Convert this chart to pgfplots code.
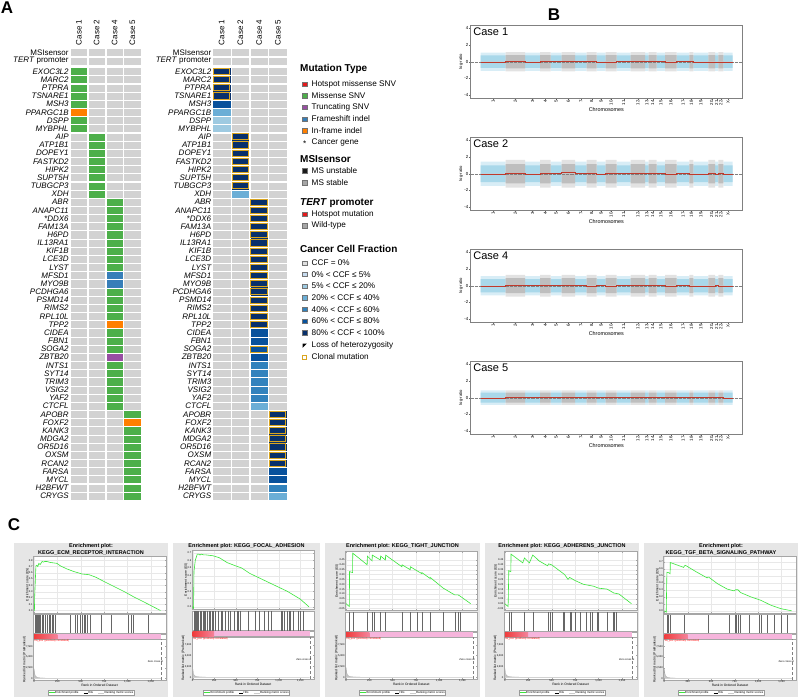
\documentclass[border=0pt]{standalone}
\usepackage{fontspec}
\setmainfont{Liberation Sans}
\usepackage{pgfplots}
\usepackage{pgfplotstable}
\pgfplotsset{compat=1.18}

\definecolor{cg}{HTML}{D2D2D2}
\definecolor{mgreen}{HTML}{4DAF4A}
\definecolor{morange}{HTML}{FF7F00}
\definecolor{mblue}{HTML}{377EB8}
\definecolor{mpurple}{HTML}{984EA3}
\definecolor{mred}{HTML}{E41A1C}
\definecolor{ccfa}{HTML}{C6DBEF}
\definecolor{ccfb}{HTML}{9ECAE1}
\definecolor{ccfc}{HTML}{6BAED6}
\definecolor{ccfd}{HTML}{3182BD}
\definecolor{ccfe}{HTML}{08519C}
\definecolor{ccff}{HTML}{08306B}
\definecolor{clonal}{HTML}{D9A520}
\definecolor{bandblue}{HTML}{A9D8EA}
\definecolor{bandgray}{HTML}{BEBEBE}
\definecolor{segred}{HTML}{C0392B}
\definecolor{esgreen}{HTML}{3CE63C}
\definecolor{gseabg}{HTML}{E6E6E6}
\definecolor{gpink}{HTML}{F6B5DC}
\definecolor{gred}{HTML}{F03C3C}

\newcommand{\genef}{\fontsize{8}{8}\selectfont\itshape}
\newcommand{\genefup}{\fontsize{8}{8}\selectfont\upshape}
\newcommand{\legf}{\fontsize{8.2}{9}\selectfont}
\newcommand{\headf}{\fontsize{10}{11}\selectfont\bfseries}
\newcommand{\cnvtick}{\fontsize{4.4}{5}\selectfont}
\newcommand{\gtiny}{\fontsize{2.6}{3}\selectfont}
\newcommand{\glab}{\fontsize{3.3}{4}\selectfont}
\newcommand{\gtitle}{\fontsize{5.5}{6}\selectfont\bfseries}

\tikzset{casel/.style={rotate=90, anchor=west, inner sep=0pt, font=\fontsize{8}{8}\selectfont}}

% mutation type per gene (g grey, m missense, i in-frame, f frameshift, t truncating)
\pgfplotstableread{
r c1 c2 c4 c5
-2.35 g g g g
-1.29 g g g g
0 m g g g
1 m g g g
2 m g g g
3 m g g g
4 m g g g
5 i g g g
6 m g g g
7 m g g g
8 g m g g
9 g m g g
10 g m g g
11 g m g g
12 g m g g
13 g m g g
14 g m g g
15 g m g g
16 g g m g
17 g g m g
18 g g m g
19 g g m g
20 g g m g
21 g g m g
22 g g m g
23 g g m g
24 g g m g
25 g g f g
26 g g f g
27 g g m g
28 g g m g
29 g g m g
30 g g m g
31 g g i g
32 g g m g
33 g g m g
34 g g m g
35 g g t g
36 g g m g
37 g g m g
38 g g m g
39 g g m g
40 g g m g
41 g g m g
42 g g g m
43 g g g i
44 g g g m
45 g g g m
46 g g g m
47 g g g m
48 g g g m
49 g g g m
50 g g g m
51 g g g m
52 g g g m
}\mutA

% cancer cell fraction class (g 0, a..f increasing)
\pgfplotstableread{
r c1 c2 c4 c5
-2.35 g g g g
-1.29 g g g g
0 f g g g
1 f g g g
2 f g g g
3 f g g g
4 e g g g
5 c g g g
6 b g g g
7 b g g g
8 g f g g
9 g f g g
10 g f g g
11 g f g g
12 g f g g
13 g f g g
14 g f g g
15 g c g g
16 g g f g
17 g g f g
18 g g f g
19 g g f g
20 g g f g
21 g g f g
22 g g f g
23 g g f g
24 g g f g
25 g g f g
26 g g f g
27 g g f g
28 g g f g
29 g g f g
30 g g f g
31 g g f g
32 g g e g
33 g g e g
34 g g e g
35 g g e g
36 g g d g
37 g g d g
38 g g d g
39 g g d g
40 g g d g
41 g g c g
42 g g g f
43 g g g f
44 g g g f
45 g g g f
46 g g g f
47 g g g f
48 g g g f
49 g g g e
50 g g g e
51 g g g d
52 g g g c
}\ccfA

\pgfplotstableread{
x r
0 0
0 1
0 2
0 3
1 8
1 9
1 10
1 11
1 12
1 13
1 14
2 16
2 17
2 18
2 19
2 20
2 21
2 22
2 23
2 24
2 25
2 26
2 27
2 28
2 29
2 30
2 31
2 34
3 42
3 43
3 44
3 45
3 46
3 47
3 48
}\clonA

% chromosome starts (genome index), band half-widths and segment means
\pgfplotstableread{
x   isb w1   s1    w2   s2    w4   s4    w5   s5
62  1  0.75 -0.06 1.00 -0.05 0.80 -0.04 0.60 -0.02
137 0  0.80  0.01 1.15  0.00 0.90  0.02 0.60  0.00
195 1  0.75 -0.03 1.00 -0.03 0.80  0.00 0.60  0.01
240 0  0.80  0.03 1.15  0.02 0.90  0.03 0.60  0.00
272 1  0.75  0.00 1.00  0.10 0.80  0.05 0.60  0.00
305 0  0.80  0.08 1.15  0.12 0.90  0.04 0.60  0.02
345 1  0.75  0.02 1.00  0.02 0.80  0.00 0.60  0.00
380 0  0.80  0.00 1.15  0.05 0.90 -0.02 0.60  0.00
410 1  0.75 -0.05 1.00 -0.06 0.80  0.00 0.60  0.00
437 0  0.80 -0.02 1.15  0.00 0.90 -0.05 0.60  0.01
470 1  0.75  0.03 1.00  0.02 0.80  0.02 0.60  0.00
512 0  0.80  0.05 1.15  0.04 0.90  0.03 0.60  0.00
555 1  0.75  0.00 1.00  0.02 0.80  0.00 0.60  0.00
566 0  0.80  0.05 1.15  0.05 0.90  0.02 0.60  0.00
590 1  0.75  0.00 1.00  0.00 0.80  0.00 0.60  0.00
615 0  0.80 -0.05 1.15 -0.06 0.90 -0.04 0.60  0.00
650 1  0.75  0.00 1.00  0.00 0.80  0.02 0.60  0.01
688 0  0.80  0.02 1.15 -0.12 0.90 -0.02 0.60  0.00
700 1  0.75 -0.10 1.00 -0.10 0.80 -0.08 0.60  0.00
745 0  0.80 -0.08 1.15  0.03 0.90 -0.03 0.60  0.00
765 1  0.75 -0.06 1.00 -0.10 0.80  0.00 0.60  0.00
775 0  0.80 -0.08 1.15  0.00 0.90 -0.08 0.60  0.00
790 1  0.75 -0.08 1.00 -0.05 0.80 -0.06 0.60 -0.02
818 0  0.00 -0.08 0.00 -0.05 0.00 -0.06 0.00 -0.02
}\chrtab

\pgfplotsset{
  heat/.style={anchor=north west, y dir=reverse, y=8.163pt,
    xmin=-0.5, xmax=3.5, ymin=-2.95, ymax=52.6,
    axis line style={draw=none}, major tick length=0pt, xtick=\empty,
    ytick={0,...,52},
    yticklabels={EXOC3L2,MARC2,PTPRA,TSNARE1,MSH3,PPARGC1B,DSPP,MYBPHL,
      AIP,ATP1B1,DOPEY1,FASTKD2,HIPK2,SUPT5H,TUBGCP3,XDH,
      ABR,ANAPC11,*DDX6,FAM13A,H6PD,IL13RA1,KIF1B,LCE3D,LYST,MFSD1,MYO9B,
      PCDHGA6,PSMD14,RIMS2,RPL10L,TPP2,CIDEA,FBN1,SOGA2,ZBTB20,INTS1,SYT14,
      TRIM3,VSIG2,YAF2,CTCFL,APOBR,FOXF2,KANK3,MDGA2,OR5D16,OXSM,RCAN2,
      FARSA,MYCL,H2BFWT,CRYGS},
    yticklabel style={font=\genef, inner sep=1pt},
    extra y ticks={-2.35,-1.29},
    extra y tick labels={MSIsensor,\textit{TERT} promoter},
    extra y tick style={yticklabel style={font=\genefup}},
    clip=false},
  cell/.style={scatter, only marks, mark=square*, mark size=3.05pt,
    point meta=explicit symbolic},
  cnv/.style={anchor=north west, scale only axis, width=271.3pt, height=73pt,
    xmin=32, xmax=846, ymin=-4.35, ymax=4.4,
    axis line style={black!50, line width=0.5pt},
    tick pos=left, tick align=outside, major tick length=1.5pt,
    tick style={black!60, line width=0.3pt},
    xtick={99.5,166,217.5,256,288.5,325,362.5,395,423.5,453.5,491,533.5,560.5,578,602.5,632.5,669,694,722.5,755,770,782.5,804},
    xticklabels={1,2,3,4,5,6,7,8,9,10,11,12,13,14,15,16,17,18,19,20,21,22,X},
    xticklabel style={rotate=90, anchor=east, font=\cnvtick, inner sep=0.8pt},
    ytick={-4,-2,0,2,4},
    yticklabel style={font=\cnvtick, inner sep=0.8pt},
    /pgf/number format/assume math mode=true,
    xlabel={Chromosomes}, ylabel={log-ratio},
    xlabel style={font=\fontsize{5.4}{6}\selectfont, yshift=2pt},
    ylabel style={font=\fontsize{4.2}{5}\selectfont, yshift=-3pt}},
  gbase/.style={anchor=north west, scale only axis, xmin=-8, xmax=1410,
    axis line style={gray!70, line width=0.3pt},
    tick style={gray!70, line width=0.2pt}, major tick length=1pt,
    tick label style={font=\gtiny, inner sep=0.5pt},
    label style={font=\glab},
    /pgf/number format/assume math mode=true,
    xtick={0,250,500,750,1000,1250}},
  esax/.style={gbase, axis background/.style={fill=white},
    grid=major, grid style={gray!18, line width=0.2pt},
    xticklabels={}, ylabel={Enrichment score (ES)}, ylabel style={yshift=-4pt}},
  hitax/.style={gbase, axis background/.style={fill=white},
    ymin=0, ymax=1, xtick=\empty, ytick=\empty},
  pinkax/.style={gbase, axis background/.style={fill=white},
    ymin=0, ymax=1, xtick=\empty, ytick=\empty},
  rankax/.style={gbase, axis background/.style={fill=white},
    ymin=-400, ymax=9250, ytick={0,2500,5000,7500},
    yticklabels={0,{2,500},{5,000},{7,500}},
    xticklabels={0,250,500,750,{1,000},{1,250}},
    xlabel={Rank in Ordered Dataset}, ylabel={Ranked list metric (PreRanked)},
    xlabel style={yshift=3pt}, ylabel style={yshift=-4pt}},
}

\newcommand{\sw}[3]{%
  \filldraw[fill=#2, draw=black!55, line width=0.3pt] (302.6pt,-#1pt) ++(0pt,-2.1pt) rectangle ++(4.2pt,4.2pt);
  \node[anchor=west, inner sep=0pt, font=\legf] at (311.5pt,-#1pt) {#3};}

\newcommand{\cnv}[4]{%
\begin{axis}[cnv, at={(470.7pt,-#1pt)}]
\addplot[ybar interval, fill=bandblue!45, draw=none] table[x=x, y expr={1.45*\thisrow{isb}*\thisrow{#2}}] {\chrtab};
\addplot[ybar interval, fill=bandblue!45, draw=none] table[x=x, y expr={-1.45*\thisrow{isb}*\thisrow{#2}}] {\chrtab};
\addplot[ybar interval, fill=bandgray!45, draw=none] table[x=x, y expr={1.45*(1-\thisrow{isb})*\thisrow{#2}}] {\chrtab};
\addplot[ybar interval, fill=bandgray!45, draw=none] table[x=x, y expr={-1.45*(1-\thisrow{isb})*\thisrow{#2}}] {\chrtab};
\addplot[ybar interval, fill=bandblue, draw=none] table[x=x, y expr={\thisrow{isb}*\thisrow{#2}}] {\chrtab};
\addplot[ybar interval, fill=bandblue, draw=none] table[x=x, y expr={-\thisrow{isb}*\thisrow{#2}}] {\chrtab};
\addplot[ybar interval, fill=bandgray, draw=none] table[x=x, y expr={(1-\thisrow{isb})*\thisrow{#2}}] {\chrtab};
\addplot[ybar interval, fill=bandgray, draw=none] table[x=x, y expr={-(1-\thisrow{isb})*\thisrow{#2}}] {\chrtab};
\addplot[densely dotted, black!50, line width=0.3pt] coordinates {(32,0) (846,0)};
\addplot[const plot, segred, line width=0.6pt] table[x=x, y=#3] {\chrtab};
\node[anchor=north west, font=\fontsize{11}{12}\selectfont, inner sep=2.5pt] at (rel axis cs:0,1) {#4};
\end{axis}}

\newcommand{\ghits}[5]{%
\begin{axis}[hitax, at={(#1pt,-#3pt)}, width=#2pt, height=#4pt]
\addplot[ycomb, black!60, line width=0.3pt] coordinates {#5};
\end{axis}}

\newcommand{\glegend}[1]{%
\node[draw=gray!80, fill=white, inner sep=0.8pt, font=\fontsize{2.9}{3.5}\selectfont] at (#1pt,-692.6pt)
 {\textcolor{esgreen}{\rule[0.3ex]{6pt}{0.8pt}}\,Enrichment profile\hspace{5pt}\rule[0.3ex]{4pt}{0.3pt}\,Hits\hspace{5pt}\textcolor{gray!40}{\rule[0.3ex]{6pt}{0.3pt}}\,Ranking metric scores};}

\newcommand{\gbottom}[6]{%
\begin{axis}[pinkax, at={(#1pt,-#3pt)}, width=#2pt, height=5pt]
\addplot[draw=none, fill=gpink] coordinates {(0,0) (1360,0) (1360,1) (0,1)} -- cycle;
\addplot[draw=none, left color=gred, right color=gred!40!gpink] coordinates {(0,0) (250,0) (250,1) (0,1)} -- cycle;
\end{axis}
\begin{axis}[rankax, at={(#1pt,-#4pt)}, width=#2pt, height=#5pt]
\addplot[draw=gray!70, fill=gray!45, line width=0.2pt] coordinates {(0,2300) (4,1600) (8,1000) (15,560) (30,260) (60,110) (120,45) (250,12) (500,4) (1360,0)} \closedcycle;
\addplot[densely dashed, gray, line width=0.2pt] coordinates {(1360,-400) (1360,9250)};
\node[anchor=north west, inner sep=0.5pt, text=red, font=\gtiny] at (rel axis cs:0,1) {'na\_pos' (positively correlated)};
\node[anchor=east, inner sep=0.5pt, font=\gtiny] at (rel axis cs:0.985,0.45) {Zero cross at};
\end{axis}
\glegend{#6}}

\begin{document}
\begin{tikzpicture}
\useasboundingbox (0pt,0pt) rectangle (800pt,-698pt);

% ---------------- panel A
\node[font=\fontsize{17}{18}\selectfont\bfseries] at (7pt,-8pt) {A};

\begin{axis}[heat, at={(69.8pt,-47.4pt)}, x=17.9pt,
  scatter/classes={g={cg},m={mgreen},i={morange},f={mblue},t={mpurple}}]
\addplot[cell, mark options={xscale=2.56}] table[x expr=0, y=r, meta=c1] {\mutA};
\addplot[cell, mark options={xscale=2.56}] table[x expr=1, y=r, meta=c2] {\mutA};
\addplot[cell, mark options={xscale=2.56}] table[x expr=2, y=r, meta=c4] {\mutA};
\addplot[cell, mark options={xscale=2.56}] table[x expr=3, y=r, meta=c5] {\mutA};
\node[casel] at (axis cs:0,-3.2) {Case 1};
\node[casel] at (axis cs:1,-3.2) {Case 2};
\node[casel] at (axis cs:2,-3.2) {Case 4};
\node[casel] at (axis cs:3,-3.2) {Case 5};
\end{axis}

\begin{axis}[heat, at={(212.4pt,-47.4pt)}, x=18.67pt,
  scatter/classes={g={cg},a={ccfa},b={ccfb},c={ccfc},d={ccfd},e={ccfe},f={ccff}}]
\addplot[cell, mark options={xscale=2.67}] table[x expr=0, y=r, meta=c1] {\ccfA};
\addplot[cell, mark options={xscale=2.67}] table[x expr=1, y=r, meta=c2] {\ccfA};
\addplot[cell, mark options={xscale=2.67}] table[x expr=2, y=r, meta=c4] {\ccfA};
\addplot[cell, mark options={xscale=2.67}] table[x expr=3, y=r, meta=c5] {\ccfA};
\addplot[only marks, mark=square, mark size=3.05pt, mark options={xscale=2.67, draw=clonal, line width=0.9pt}] table[x=x, y=r] {\clonA};
\node[casel] at (axis cs:0,-3.2) {Case 1};
\node[casel] at (axis cs:1,-3.2) {Case 2};
\node[casel] at (axis cs:2,-3.2) {Case 4};
\node[casel] at (axis cs:3,-3.2) {Case 5};
\end{axis}

% legend
\node[anchor=west, inner sep=0pt, font=\headf] at (300pt,-69pt) {Mutation Type};
\sw{84}{mred}{Hotspot missense SNV}
\sw{95.7}{mgreen}{Missense SNV}
\sw{107.3}{mpurple}{Truncating SNV}
\sw{119}{mblue}{Frameshift indel}
\sw{130.7}{morange}{In-frame indel}
\node[font=\legf, inner sep=0pt] at (304.7pt,-144pt) {*};
\node[anchor=west, inner sep=0pt, font=\legf] at (311.5pt,-142.7pt) {Cancer gene};
\node[anchor=west, inner sep=0pt, font=\headf] at (300pt,-159pt) {MSIsensor};
\sw{170.7}{black!90}{MS unstable}
\sw{182.7}{black!35}{MS stable}
\node[anchor=west, inner sep=0pt, font=\headf] at (300pt,-202.7pt) {\textit{TERT} promoter};
\sw{214}{mred}{Hotspot mutation}
\sw{225.7}{black!35}{Wild-type}
\node[anchor=west, inner sep=0pt, font=\headf] at (300pt,-249pt) {Cancer Cell Fraction};
\sw{263}{black!12}{CCF = 0\%}
\sw{274.3}{ccfa}{0\% < CCF ≤ 5\%}
\sw{286}{ccfb}{5\% < CCF ≤ 20\%}
\sw{297.7}{ccfc}{20\% < CCF ≤ 40\%}
\sw{309.3}{ccfd}{40\% < CCF ≤ 60\%}
\sw{321}{ccfe}{60\% < CCF ≤ 80\%}
\sw{332.7}{ccff}{80\% < CCF < 100\%}
\fill[white] (302.6pt,-347.8pt) rectangle (306.8pt,-343.6pt);
\fill[black] (302.6pt,-347.8pt) -- (306.8pt,-343.6pt) -- (302.6pt,-343.6pt) -- cycle;
\node[anchor=west, inner sep=0pt, font=\legf] at (311.5pt,-345.7pt) {Loss of heterozygosity};
\draw[clonal, line width=0.7pt, fill=white] (302.6pt,-359.1pt) rectangle (306.8pt,-354.9pt);
\node[anchor=west, inner sep=0pt, font=\legf] at (311.5pt,-357pt) {Clonal mutation};

% ---------------- panel B
\node[font=\fontsize{17}{18}\selectfont\bfseries] at (554pt,-15pt) {B};
\cnv{25}{w1}{s1}{Case 1}
\cnv{137}{w2}{s2}{Case 2}
\cnv{249}{w4}{s4}{Case 4}
\cnv{361}{w5}{s5}{Case 5}

% ---------------- panel C
\node[font=\fontsize{17}{18}\selectfont\bfseries] at (14pt,-525pt) {C};
\fill[gseabg] (14pt,-543pt) rectangle (168pt,-697pt);
\fill[gseabg] (173pt,-543pt) rectangle (320pt,-697pt);
\fill[gseabg] (325pt,-543pt) rectangle (480pt,-697pt);
\fill[gseabg] (485pt,-543pt) rectangle (639pt,-697pt);
\fill[gseabg] (644pt,-543pt) rectangle (798pt,-697pt);

% C1 ECM receptor interaction
\node[font=\gtitle] at (91pt,-546.3pt) {Enrichment plot:};
\node[font=\gtitle] at (91pt,-552.8pt) {KEGG\_ECM\_RECEPTOR\_INTERACTION};
\begin{axis}[esax, at={(33.3pt,-556pt)}, width=132.4pt, height=57pt,
  ymin=-0.04, ymax=0.867, ytick={0,0.1,...,0.8},
  yticklabel style={/pgf/number format/.cd, fixed, fixed zerofill, precision=1}]
\addplot[esgreen, line width=0.6pt] coordinates {(0,0) (4,0) (7,0.23) (20,0.71) (30,0.72) (40,0.70) (51,0.75) (65,0.73) (87,0.78) (101,0.77) (115,0.78) (137,0.78) (173,0.765) (245,0.75) (282,0.71) (354,0.66) (426,0.62) (516,0.58) (588,0.57) (661,0.53) (751,0.46) (859,0.38) (967,0.30) (1076,0.21) (1184,0.13) (1354,0)};
\end{axis}
\ghits{33.3}{132.4}{614.5}{18.5}{(14,1) (22,1) (29,1) (36,1) (43,1) (51,1) (65,1) (87,1) (101,1) (119,1) (137,1) (159,1) (173,1) (191,1) (209,1) (227,1) (390,1) (444,1) (462,1) (498,1) (516,1) (534,1) (552,1) (570,1) (606,1) (715,1) (823,1) (830,1) (1003,1) (1040,1) (1058,1) (1220,1)}
\gbottom{33.3}{132.4}{634}{639}{41}{91}

% C2 focal adhesion
\node[font=\gtitle] at (246.5pt,-546pt) {Enrichment plot: KEGG\_FOCAL\_ADHESION};
\begin{axis}[esax, at={(192pt,-550pt)}, width=122pt, height=59pt,
  ymin=-0.03, ymax=0.734, ytick={0,0.1,...,0.7},
  yticklabel style={/pgf/number format/.cd, fixed, fixed zerofill, precision=1}]
\addplot[esgreen, line width=0.6pt] coordinates {(0,0) (5,-0.02) (10,-0.02) (15,0.455) (30,0.60) (45,0.65) (53,0.68) (68,0.68) (85,0.67) (101,0.68) (130,0.67) (158,0.67) (233,0.66) (308,0.635) (402,0.57) (496,0.53) (571,0.50) (665,0.43) (797,0.36) (947,0.28) (1098,0.20) (1248,0.10) (1350,0)};
\end{axis}
\ghits{192}{122}{611}{19.5}{(15,1) (26,1) (38,1) (53,1) (68,1) (83,1) (102,1) (120,1) (135,1) (150,1) (165,1) (188,1) (203,1) (226,1) (241,1) (263,1) (301,1) (327,1) (346,1) (376,1) (414,1) (440,1) (478,1) (515,1) (534,1) (553,1) (647,1) (722,1) (778,1) (835,1) (872,1) (910,1) (1023,1) (1041,1) (1060,1) (1098,1) (1117,1) (1135,1) (1173,1) (1230,1) (1248,1) (1286,1)}
\gbottom{192}{122}{631}{637}{42}{246.5}

% C3 tight junction
\node[font=\gtitle] at (402.5pt,-546pt) {Enrichment plot: KEGG\_TIGHT\_JUNCTION};
\begin{axis}[esax, at={(345.3pt,-551.5pt)}, width=132pt, height=58.5pt,
  ymin=-0.065, ymax=0.537, ytick={-0.05,0,0.05,...,0.5},
  yticklabel style={/pgf/number format/.cd, fixed, fixed zerofill, precision=2}]
\addplot[esgreen, line width=0.6pt] coordinates {(0,0) (36,-0.03) (37,0.33) (70,0.32) (72,0.52) (227,0.40) (229,0.49) (280,0.44) (282,0.50) (369,0.45) (371,0.49) (423,0.45) (425,0.50) (600,0.38) (602,0.40) (689,0.35) (691,0.38) (760,0.34) (813,0.31) (815,0.32) (902,0.26) (904,0.27) (1044,0.16) (1168,0.09) (1204,0.09) (1222,0.08) (1339,0)};
\end{axis}
\ghits{345.3}{132}{612}{19}{(37,1) (72,1) (229,1) (282,1) (298,1) (371,1) (425,1) (602,1) (691,1) (760,1) (815,1) (904,1) (1044,1) (1168,1) (1204,1) (1222,1)}
\gbottom{345.3}{132}{632}{637}{42}{402.5}

% C4 adherens junction
\node[font=\gtitle] at (562pt,-546pt) {Enrichment plot: KEGG\_ADHERENS\_JUNCTION};
\begin{axis}[esax, at={(504pt,-551.5pt)}, width=133pt, height=58.5pt,
  ymin=-0.065, ymax=0.537, ytick={-0.05,0,0.05,...,0.5},
  yticklabel style={/pgf/number format/.cd, fixed, fixed zerofill, precision=2}]
\addplot[esgreen, line width=0.6pt] coordinates {(0,0) (36,-0.03) (43,0.34) (65,0.33) (67,0.51) (192,0.42) (210,0.47) (263,0.42) (298,0.50) (334,0.47) (366,0.44) (457,0.39) (467,0.41) (500,0.40) (583,0.34) (638,0.30) (674,0.25) (692,0.27) (746,0.24) (837,0.20) (946,0.18) (1000,0.16) (1091,0.15) (1163,0.11) (1217,0.10) (1351,0)};
\end{axis}
\ghits{504}{133}{612}{19}{(43,1) (67,1) (210,1) (298,1) (467,1) (482,1) (500,1) (620,1) (630,1) (692,1) (710,1) (746,1) (801,1) (873,1) (909,1) (928,1) (982,1) (1000,1) (1091,1) (1156,1) (1170,1) (1188,1)}
\gbottom{504}{133}{632}{637}{42}{562}

% C5 TGF beta signalling
\node[font=\gtitle] at (721pt,-546.3pt) {Enrichment plot:};
\node[font=\gtitle] at (721pt,-552.8pt) {KEGG\_TGF\_BETA\_SIGNALING\_PATHWAY};
\begin{axis}[esax, at={(663.5pt,-556pt)}, width=133pt, height=57pt,
  ymin=-0.032, ymax=0.783, ytick={0,0.1,...,0.7},
  yticklabel style={/pgf/number format/.cd, fixed, fixed zerofill, precision=1}]
\addplot[esgreen, line width=0.6pt] coordinates {(0,0) (21,-0.02) (28,0.55) (46,0.545) (63,0.53) (64,0.69) (207,0.62) (214,0.64) (225,0.65) (350,0.55) (457,0.47) (464,0.48) (475,0.48) (564,0.39) (671,0.31) (743,0.285) (761,0.30) (786,0.30) (814,0.26) (921,0.20) (1029,0.15) (1136,0.08) (1243,0.03) (1357,0)};
\end{axis}
\ghits{663.5}{133}{614.5}{18.5}{(28,1) (46,1) (64,1) (214,1) (464,1) (689,1) (761,1) (771,1) (786,1) (807,1) (904,1) (1011,1) (1029,1) (1100,1) (1171,1) (1243,1) (1314,1)}
\gbottom{663.5}{133}{634}{639}{41}{721}

\end{tikzpicture}
\end{document}
